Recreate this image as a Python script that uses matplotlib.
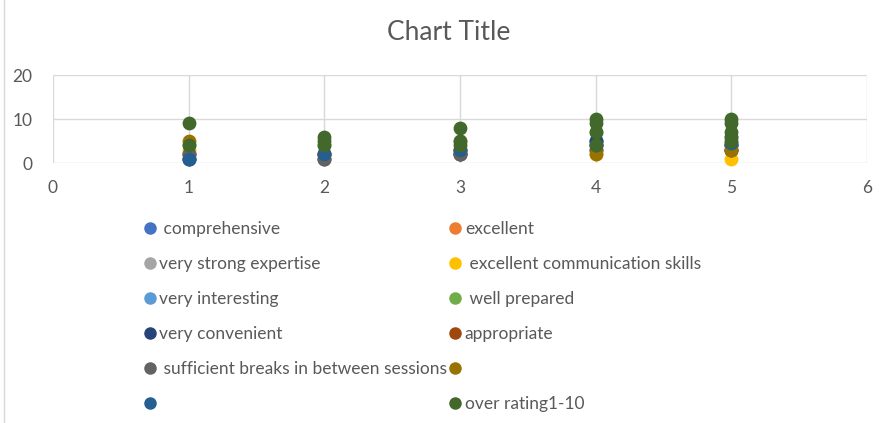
import matplotlib.pyplot as plt
from matplotlib.lines import Line2D

# series names as shown in the legend (two are blank in the source)
names = [
    " comprehensive",
    "excellent",
    "very strong expertise",
    " excellent communication skills",
    "very interesting",
    " well prepared",
    "very convenient",
    "appropriate",
    " sufficient breaks in between sessions",
    "",
    "",
    "over rating1-10",
]
colors = [
    "#4472C4", "#ED7D31", "#A5A5A5", "#FFC000", "#5B9BD5", "#70AD47",
    "#264478", "#9E480E", "#636363", "#997300", "#255E91", "#43682B",
]

x_main = [1, 2, 3, 4, 5]
y_comprehensive = [1, 2, 3, 5, 4]
y_excellent = [2, 2, 3, 4, 3]
y_expertise = [2, 1, 2, 4, 3]
y_communication = [3, 2, 3, 2, 1]
y_interesting = [1, 2, 2, 5, 4]
y_prepared = [4, 4, 5, 7, 6]
y_convenient = [1, 1, 2, 5, 4]
y_appropriate = [2, 2, 2, 3, 3]
y_breaks = [2, 1, 2, 3, 3]
y_blank1 = [5, 2, 3, 2, 3]
y_blank2 = [1, 2, 3, 4, 4.5]

x_overall = [1, 1, 2, 2, 2, 3, 3, 3, 4, 4, 4, 4, 5, 5, 5, 5, 5]
y_overall = [9, 4, 6, 5, 4, 8, 5, 4, 10, 9, 7, 4, 10, 9, 7, 6, 5]

series_y = [
    y_comprehensive, y_excellent, y_expertise, y_communication, y_interesting,
    y_prepared, y_convenient, y_appropriate, y_breaks, y_blank1, y_blank2,
]

plt.rcParams["font.family"] = ["Lato", "DejaVu Sans"]

fig = plt.figure(figsize=(8.9, 4.23), dpi=100)
ax = fig.add_axes([53 / 890, 1 - 163 / 423, (867 - 53) / 890, (163 - 75) / 423])

for ys, col in zip(series_y, colors[:-1]):
    ax.scatter(x_main, ys, s=80, color=col, zorder=3, clip_on=False)
ax.scatter(x_overall, y_overall, s=80, color=colors[-1], zorder=3, clip_on=False)

ax.set_xlim(0, 6)
ax.set_ylim(0, 20)
ax.set_xticks(range(0, 7))
ax.set_yticks([0, 10, 20])
ax.grid(True, color="#D9D9D9", lw=1)
ax.set_axisbelow(True)
for sp in ax.spines.values():
    sp.set_visible(False)
ax.tick_params(length=0, labelsize=12.5, colors="#595959")
ax.tick_params(axis="x", pad=12)
ax.tick_params(axis="y", pad=15)

fig.text(449 / 890, 1 - 33 / 423, "Chart Title", ha="center", va="center",
         fontsize=19, color="#595959")

# legend laid out row by row, like the spreadsheet legend
handles = [Line2D([], [], marker="o", ls="", markersize=8, color=c) for c in colors]
order = [0, 2, 4, 6, 8, 10, 1, 3, 5, 7, 9, 11]
leg = fig.legend([handles[i] for i in order], [names[i] for i in order],
                 ncol=2, loc="upper left", bbox_to_anchor=(143 / 890, 1 - 221 / 423),
                 frameon=False, fontsize=12.5, handlelength=0.8, handletextpad=0.15,
                 columnspacing=0.05, labelspacing=1.1, borderpad=0, borderaxespad=0)
for t in leg.get_texts():
    t.set_color("#595959")

# left edge of the chart frame
fig.add_artist(Line2D([4 / 890, 4 / 890], [0, 1], color="#D9D9D9", lw=1))

fig.savefig("out.png", dpi=100, facecolor="white")
